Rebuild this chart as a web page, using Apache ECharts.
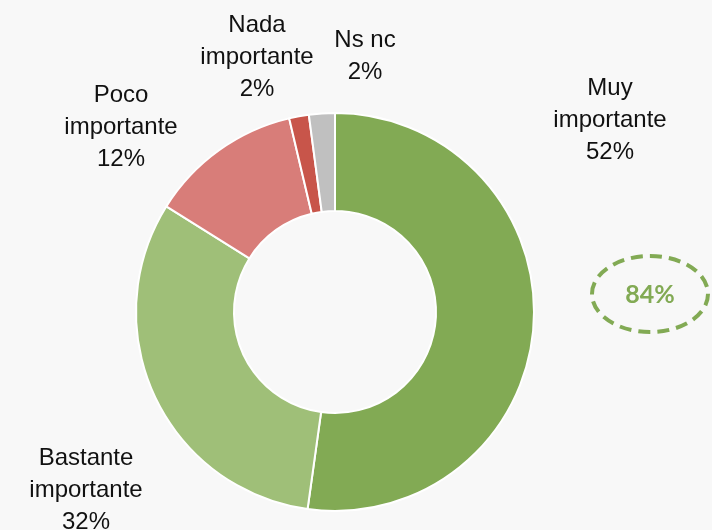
<!DOCTYPE html>
<html>
<head>
<meta charset="utf-8">
<script src="https://cdn.jsdelivr.net/npm/echarts@6/dist/echarts.min.js"></script>
<style>
  html, body { margin: 0; padding: 0; background: #f8f8f8; }
  #chart { width: 712px; height: 530px; }
</style>
</head>
<body>
<div id="chart"></div>
<script>
// data
const categories = ['Muy\nimportante', 'Bastante\nimportante', 'Poco\nimportante', 'Nada\nimportante', 'Ns nc']
const values = [52.2, 31.7, 12.4, 1.6, 2.1]
const percentLabels = ['52%', '32%', '12%', '2%', '2%']
const highlightLabel = '84%'

const colors = ['#82aa54', '#9fbf78', '#d87d79', '#c8554a', '#c0c0c0']
// label centres (px)
const labelPos = [[610, 120], [86, 490], [121, 127], [257, 57], [365, 56]]

const chart = echarts.init(document.getElementById('chart'))
chart.setOption({
  backgroundColor: '#f8f8f8',
  animation: false,
  graphic: [{
    type: 'ellipse',
    shape: { cx: 650, cy: 294, rx: 58, ry: 38 },
    style: {
      fill: 'none',
      stroke: '#82aa54',
      lineWidth: 4,
      lineDash: [12, 7]
    }
  }, {
    type: 'text',
    x: 650,
    y: 295,
    style: {
      text: highlightLabel,
      fill: '#82aa54',
      font: 'bold 25px Lato',
      align: 'center',
      verticalAlign: 'middle'
    }
  }],
  series: [{
    type: 'pie',
    center: [335, 312],
    radius: [101, 199],
    startAngle: 90,
    clockwise: true,
    itemStyle: {
      borderColor: '#ffffff',
      borderWidth: 2
    },
    label: {
      show: true,
      position: 'outside',
      color: '#111',
      fontFamily: 'Liberation Sans',
      fontSize: 24,
      lineHeight: 32,
      align: 'center',
      overflow: 'none',
      formatter: (p) => categories[p.dataIndex] + '\n' + percentLabels[p.dataIndex]
    },
    labelLine: { show: false },
    labelLayout: (p) => ({
      x: labelPos[p.dataIndex][0],
      y: labelPos[p.dataIndex][1],
      align: 'center',
      verticalAlign: 'middle'
    }),
    emphasis: { disabled: true },
    data: values.map((v, i) => ({
      value: v,
      name: categories[i],
      itemStyle: { color: colors[i] }
    }))
  }]
})
</script>
</body>
</html>
